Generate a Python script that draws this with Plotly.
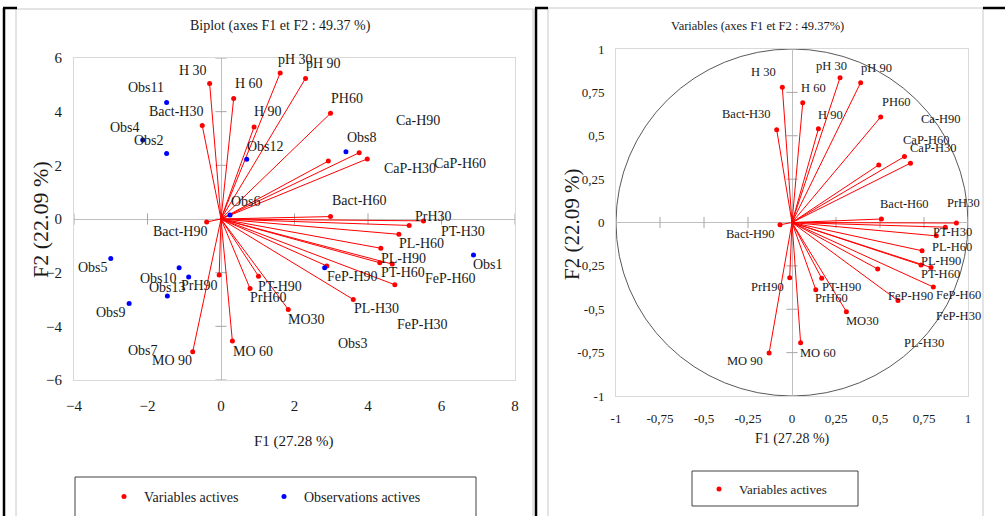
import plotly.graph_objects as go

W, H = 1005, 516

# ---------------- data ----------------
var_names = ["H 30", "H 60", "H 90", "Bact-H30", "pH 30", "pH 90", "PH60",
             "Ca-H90", "CaP-H30", "CaP-H60", "Bact-H60", "PrH30", "PT-H30",
             "PL-H60", "PL-H90", "PT-H60", "FeP-H60", "FeP-H90", "FeP-H30",
             "PL-H30", "Bact-H90", "PrH90", "PT-H90", "PrH60", "MO30",
             "MO 60", "MO 90"]
# biplot coordinates (left)
var_f1 = [-0.31, 0.345, 0.90, -0.51, 1.61, 2.30, 2.98,
          3.76, 2.92, 3.98, 2.98, 5.51, 5.12,
          4.84, 4.35, 4.32, 4.66, 2.88, 4.73,
          3.60, -0.39, -0.05, 1.02, 0.79, 1.83,
          0.31, -0.77]
var_f2 = [5.05, 4.49, 3.43, 3.48, 5.44, 5.24, 3.94,
          2.47, 2.16, 2.24, 0.09, -0.07, -0.24,
          -0.57, -1.09, -1.63, -1.68, -1.75, -2.45,
          -3.00, -0.11, -2.09, -2.13, -2.59, -3.37,
          -4.55, -4.95]
# correlation circle coordinates (right)
var_c1 = [-0.055, 0.061, 0.15, -0.087, 0.273, 0.39, 0.504,
          0.639, 0.493, 0.673, 0.508, 0.934, 0.871,
          0.82, 0.739, 0.733, 0.79, 0.487, 0.803,
          0.602, -0.068, -0.013, 0.169, 0.135, 0.309,
          0.049, -0.13]
var_c2 = [0.78, 0.69, 0.54, 0.535, 0.835, 0.806, 0.608,
          0.38, 0.332, 0.342, 0.02, -0.003, -0.027,
          -0.077, -0.163, -0.245, -0.259, -0.268, -0.372,
          -0.45, -0.013, -0.318, -0.322, -0.387, -0.514,
          -0.693, -0.752]

obs_names = ["Obs1", "Obs2", "Obs3", "Obs4", "Obs5", "Obs6", "Obs7",
             "Obs8", "Obs9", "Obs10", "Obs11", "Obs12", "Obs13"]
obs_f1 = [6.87, -1.48, 2.82, -2.13, -3.00, 0.245, -1.46,
          3.40, -2.50, -1.14, -1.48, 0.70, -0.88]
obs_f2 = [-1.34, 2.44, -1.82, 2.94, -1.47, 0.15, -2.87,
          2.51, -3.15, -1.82, 4.34, 2.23, -2.16]

bi_xticks = [-4, -2, 0, 2, 4, 6, 8]
bi_yticks = [-6, -4, -2, 0, 2, 4, 6]
ci_ticks = [-1, -0.75, -0.5, -0.25, 0, 0.25, 0.5, 0.75, 1]
ci_ticktext = ["-1", "-0,75", "-0,5", "-0,25", "0", "0,25", "0,5", "0,75", "1"]

title_left = "Biplot (axes F1 et F2 : 49.37 %)"
title_right = "Variables (axes F1 et F2 : 49.37%)"
xtitle_left = "F1 (27.28 %)"
ytitle_left = "F2 (22.09 %)"
xtitle_right = "F1 (27.28 %)"
ytitle_right = "F2 (22.09 %)"

# ---------------- styles (label pixel offsets dx, dy-down) ----------------
off_left = [(-17, -13), (15, -15), (14, -15), (-26, -14), (15, -14), (18, -15), (16, -15),
            (59, -32), (82, 7), (93, 5), (28, -16), (10, -4), (54, 6),
            (23, 9), (23, 10), (23, 10), (58, 14), (26, 11), (28, 40),
            (23, 9), (-27, 10), (-20, 10), (22, 10), (18, 9), (18, 10),
            (21, 10), (-21, 9)]
off_obs = [(15, 10), (-18, -13), (28, 76), (-18, -13), (-18, 9), (16, -13), (-24, 54),
           (16, -14), (-18, 9), (-21, 11), (-21, -15), (19, -13), (-21, 11)]
off_right = [(-19, -15), (11, -15), (12, -14), (-30, -16), (-9, -12), (16, -15), (15, -15),
             (37, -38), (55, -17), (16, -23), (23, -15), (7, -20), (7, 5),
             (16, 11), (19, 10), (19, 9), (27, 28), (33, 27), (25, 29),
             (26, 42), (-30, 9), (-22, 9), (20, 9), (16, 8), (16, 9),
             (17, 10), (-24, 8)]

FONT = "Liberation Serif"
TXT = "#1a1a1a"
RED = "#ff0000"
BLUE = "#0000ff"


def px(x):
    return x / W


def py(y):
    return 1 - y / H


fig = go.Figure()

# zero-line tick marks
fig.add_trace(go.Scatter(x=[0] * len(bi_yticks), y=bi_yticks, mode="markers", xaxis="x", yaxis="y",
                         marker=dict(symbol="line-ew", size=8, line=dict(width=1, color="#a6a6a6")),
                         showlegend=False, hoverinfo="skip"))
fig.add_trace(go.Scatter(x=bi_xticks, y=[0] * len(bi_xticks), mode="markers", xaxis="x", yaxis="y",
                         marker=dict(symbol="line-ns", size=8, line=dict(width=1, color="#a6a6a6")),
                         showlegend=False, hoverinfo="skip"))
fig.add_trace(go.Scatter(x=[0] * len(ci_ticks), y=ci_ticks, mode="markers", xaxis="x2", yaxis="y2",
                         marker=dict(symbol="line-ew", size=8, line=dict(width=1, color="#a6a6a6")),
                         showlegend=False, hoverinfo="skip"))
fig.add_trace(go.Scatter(x=ci_ticks, y=[0] * len(ci_ticks), mode="markers", xaxis="x2", yaxis="y2",
                         marker=dict(symbol="line-ns", size=8, line=dict(width=1, color="#a6a6a6")),
                         showlegend=False, hoverinfo="skip"))

# vectors
lx, ly = [], []
for a, b in zip(var_f1, var_f2):
    lx += [0, a, None]
    ly += [0, b, None]
fig.add_trace(go.Scatter(x=lx, y=ly, mode="lines", xaxis="x", yaxis="y",
                         line=dict(color=RED, width=1), showlegend=False, hoverinfo="skip"))
rx, ry = [], []
for a, b in zip(var_c1, var_c2):
    rx += [0, a, None]
    ry += [0, b, None]
fig.add_trace(go.Scatter(x=rx, y=ry, mode="lines", xaxis="x2", yaxis="y2",
                         line=dict(color=RED, width=1), showlegend=False, hoverinfo="skip"))

# points
fig.add_trace(go.Scatter(x=var_f1, y=var_f2, mode="markers", xaxis="x", yaxis="y",
                         name="Variables actives", text=var_names,
                         marker=dict(color=RED, size=5), legend="legend"))
fig.add_trace(go.Scatter(x=obs_f1, y=obs_f2, mode="markers", xaxis="x", yaxis="y",
                         name="Observations actives", text=obs_names,
                         marker=dict(color=BLUE, size=5), legend="legend"))
fig.add_trace(go.Scatter(x=var_c1, y=var_c2, mode="markers", xaxis="x2", yaxis="y2",
                         name="Variables actives", text=var_names,
                         marker=dict(color=RED, size=5), legend="legend2"))

ann = []
for n, a, b, (dx, dy) in zip(var_names, var_f1, var_f2, off_left):
    ann.append(dict(x=a, y=b, xref="x", yref="y", text=n, showarrow=False,
                    xanchor="center", yanchor="middle",
                    xshift=dx, yshift=-dy, font=dict(family=FONT, size=14, color=TXT)))
for n, a, b, (dx, dy) in zip(obs_names, obs_f1, obs_f2, off_obs):
    ann.append(dict(x=a, y=b, xref="x", yref="y", text=n, showarrow=False,
                    xanchor="center", yanchor="middle",
                    xshift=dx, yshift=-dy, font=dict(family=FONT, size=14, color=TXT)))
for n, a, b, (dx, dy) in zip(var_names, var_c1, var_c2, off_right):
    ann.append(dict(x=a, y=b, xref="x2", yref="y2", text=n, showarrow=False,
                    xanchor="center", yanchor="middle",
                    xshift=dx, yshift=-dy, font=dict(family=FONT, size=12.5, color=TXT)))


def paper_text(x, y, text, size, angle=0):
    return dict(x=px(x), y=py(y), xref="paper", yref="paper", text=text, showarrow=False,
                xanchor="center", yanchor="middle", textangle=angle,
                font=dict(family=FONT, size=size, color=TXT))


ann += [
    paper_text(280, 26, title_left, 14),
    paper_text(757, 26, title_right, 12.5),
    paper_text(294, 441, xtitle_left, 15),
    paper_text(40, 220, ytitle_left, 22, -90),
    paper_text(572, 225, ytitle_right, 21, -90),
    paper_text(792, 439, xtitle_right, 14),
]

shapes = []
# chart boxes (light gray)
shapes.append(dict(type="rect", xref="paper", yref="paper", x0=px(16), x1=px(533), y0=py(530), y1=py(9),
                   line=dict(color="#c8c8c8", width=1), layer="below"))
shapes.append(dict(type="rect", xref="paper", yref="paper", x0=px(548), x1=px(983), y0=py(530), y1=py(8),
                   line=dict(color="#c8c8c8", width=1), layer="below"))
# table borders (black)
for (x0, y0, x1, y1) in [(4, 8, 4, 520), (536, 8, 536, 520), (3, 8, 17, 8), (535, 8, 548, 8), (983, 8, 1006, 8)]:
    shapes.append(dict(type="line", xref="paper", yref="paper", x0=px(x0), x1=px(x1), y0=py(y0), y1=py(y1),
                       line=dict(color="#000000", width=2.5)))
# legend boxes
shapes.append(dict(type="rect", xref="paper", yref="paper", x0=px(75), x1=px(476), y0=py(530), y1=py(477),
                   line=dict(color="#404040", width=1)))
shapes.append(dict(type="rect", xref="paper", yref="paper", x0=px(692), x1=px(858), y0=py(506), y1=py(471),
                   line=dict(color="#404040", width=1)))
# correlation circle
shapes.append(dict(type="circle", xref="x2", yref="y2", x0=-1, y0=-1, x1=1, y1=1,
                   line=dict(color="#595959", width=1), layer="below"))

axis_common = dict(showgrid=False, zeroline=True, zerolinecolor="#bfbfbf", zerolinewidth=1,
                   showline=True, mirror=True, linecolor="#d9d9d9", linewidth=1, ticks="",
                   automargin=False)

fig.update_layout(
    width=W, height=H, margin=dict(l=0, r=0, t=0, b=0, autoexpand=False),
    paper_bgcolor="white", plot_bgcolor="white",
    xaxis=dict(domain=[px(74), px(515)], range=[-4, 8], tickvals=bi_xticks,
               tickfont=dict(family=FONT, size=15, color=TXT), ticklabelstandoff=12, anchor="y", **axis_common),
    yaxis=dict(domain=[py(380), py(58)], range=[-6, 6], tickvals=bi_yticks,
               tickfont=dict(family=FONT, size=15, color=TXT), ticklabelstandoff=8, anchor="x", **axis_common),
    xaxis2=dict(domain=[px(616), px(968)], range=[-1, 1], tickvals=ci_ticks, ticktext=ci_ticktext,
                tickfont=dict(family=FONT, size=13, color=TXT), ticklabelstandoff=10, anchor="y2", **axis_common),
    yaxis2=dict(domain=[py(396), py(49)], range=[-1, 1], tickvals=ci_ticks, ticktext=ci_ticktext,
                tickfont=dict(family=FONT, size=13, color=TXT), ticklabelstandoff=8, anchor="x2", **axis_common),
    legend=dict(orientation="h", x=px(104), y=py(497), xanchor="left", yanchor="middle",
                font=dict(family=FONT, size=14, color=TXT), bgcolor="rgba(0,0,0,0)",
                entrywidth=115, itemwidth=30),
    legend2=dict(orientation="h", x=px(699), y=py(489), xanchor="left", yanchor="middle",
                 font=dict(family=FONT, size=13, color=TXT), bgcolor="rgba(0,0,0,0)", itemwidth=30),
    annotations=ann, shapes=shapes, hovermode=False,
)

fig.write_html("out.html", config={"displayModeBar": False},
               post_script="document.body.style.margin='0px';document.body.style.padding='0px';"
                           "document.documentElement.style.margin='0px';")
